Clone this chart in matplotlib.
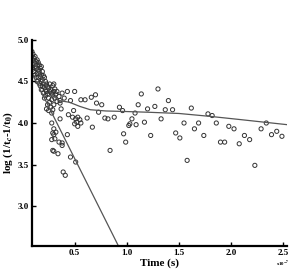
import numpy as np
import matplotlib
matplotlib.use("Agg")
import matplotlib.pyplot as plt

# scatter data (time in units of x10^-7 s)
t_pts = [0.09, 0.09, 0.10, 0.10, 0.10, 0.10, 0.11, 0.11, 0.11, 0.12, 0.12, 0.12,
         0.13, 0.13, 0.13, 0.14, 0.14, 0.14, 0.14, 0.15, 0.15, 0.15, 0.16, 0.16,
         0.16, 0.17, 0.17, 0.17, 0.18, 0.18, 0.18, 0.18, 0.19, 0.19, 0.19, 0.20,
         0.20, 0.20, 0.21, 0.21, 0.21, 0.22, 0.22, 0.22, 0.23, 0.23, 0.23, 0.24,
         0.24, 0.24, 0.25, 0.25, 0.25, 0.26, 0.26, 0.26, 0.27, 0.27, 0.28, 0.28,
         0.28, 0.29, 0.29, 0.30, 0.30, 0.31, 0.31, 0.32, 0.33, 0.33, 0.35, 0.36,
         0.38, 0.40,
         0.30, 0.43, 0.50, 0.60, 0.66, 0.70, 0.46, 0.36, 0.37, 0.29, 0.49, 0.56,
         0.44, 0.48, 0.51, 0.53, 0.55, 0.52, 0.50, 0.56, 0.53, 0.36, 0.67, 0.62,
         0.73, 0.79, 0.82, 0.88, 0.76, 0.71, 0.28, 0.30, 0.29, 0.31, 0.38, 0.43,
         0.97, 1.02, 0.99, 1.09, 0.84,
         0.28, 0.30, 0.32, 0.29, 0.30, 0.34, 0.35, 0.38, 0.46, 0.51, 0.39, 0.41,
         0.93, 0.96, 1.03, 1.05, 1.08, 1.11, 1.14, 1.17, 1.20, 1.23, 1.27, 1.30,
         1.33, 1.37, 1.40, 1.44, 1.47, 1.51, 1.55, 1.58, 1.62, 1.65, 1.69, 1.74,
         1.78, 1.82, 1.86, 1.90, 1.94, 1.98, 2.03, 2.08, 2.13, 2.18, 2.23, 2.29,
         2.34, 2.39, 2.44, 2.49]
logv = [4.86, 4.80, 4.83, 4.75, 4.70, 4.65, 4.78, 4.72, 4.62, 4.80, 4.68, 4.58,
        4.74, 4.66, 4.55, 4.76, 4.70, 4.60, 4.50, 4.73, 4.64, 4.55, 4.70, 4.62,
        4.48, 4.66, 4.56, 4.45, 4.68, 4.58, 4.50, 4.40, 4.62, 4.52, 4.44, 4.57,
        4.47, 4.36, 4.55, 4.43, 4.30, 4.50, 4.40, 4.33, 4.47, 4.38, 4.17, 4.44,
        4.35, 4.22, 4.42, 4.30, 4.15, 4.47, 4.38, 4.25, 4.40, 4.19, 4.36, 4.28,
        4.12, 4.45, 4.34, 4.38, 4.22, 4.41, 4.30, 4.35, 4.26, 4.38, 4.32, 4.24,
        4.36, 4.30,
        4.47, 4.38, 4.38, 4.28, 4.31, 4.34, 4.27, 4.27, 4.17, 4.16, 4.15, 4.28,
        4.10, 4.07, 4.05, 4.07, 4.04, 4.01, 3.99, 4.00, 3.96, 4.05, 3.95, 4.06,
        4.13, 4.06, 4.05, 4.07, 4.22, 4.24, 4.00, 3.93, 3.88, 3.81, 3.76, 3.86,
        3.87, 3.97, 3.77, 3.98, 3.67,
        3.80, 3.86, 3.89, 3.67, 3.66, 3.63, 3.77, 3.73, 3.59, 3.53, 3.41, 3.37,
        4.19, 4.15, 3.99, 4.05, 4.12, 4.22, 4.35, 4.01, 4.17, 3.85, 4.20, 4.41,
        4.05, 4.16, 4.27, 4.16, 3.88, 3.82, 4.00, 3.55, 4.18, 3.93, 4.00, 3.85,
        4.11, 4.09, 4.00, 3.77, 3.77, 3.96, 3.93, 3.75, 3.85, 3.80, 3.49, 3.93,
        4.00, 3.86, 3.90, 3.84]

# fitted lines, vertices
fast_t = [0.09, 0.92]
fast_y = [4.60, 2.52]
slow_t = [0.09, 0.15, 0.20, 0.25, 0.30, 0.35, 0.45, 0.55, 0.65, 0.80, 0.95,
          1.20, 1.50, 1.80, 2.10, 2.54]
slow_y = [4.80, 4.62, 4.50, 4.40, 4.32, 4.27, 4.25, 4.20, 4.16, 4.145, 4.14,
          4.13, 4.115, 4.08, 4.04, 3.98]

xticks = [0.5, 1.0, 1.5, 2.0, 2.5]
yticks = [3.0, 3.5, 4.0, 4.5, 5.0]

plt.rcParams['font.family'] = 'Liberation Serif'
plt.rcParams['font.weight'] = 'bold'
plt.rcParams['mathtext.fontset'] = 'stix'

fig = plt.figure(figsize=(2.93, 2.72), dpi=100)
ax = fig.add_axes([0.109, 0.096, 0.871, 0.757])

ax.plot(fast_t, fast_y, color='#555555', lw=0.9)
ax.plot(slow_t, slow_y, color='#555555', lw=0.9)
ax.scatter(t_pts, logv, s=9, facecolors='none', edgecolors='#333333', linewidths=0.7)

ax.set_xlim(0.09, 2.54)
ax.set_ylim(2.52, 5.0)
ax.set_xticks(xticks)
ax.set_yticks(yticks)
ax.set_xticklabels(['%.1f' % v for v in xticks], fontsize=6.5, fontweight='bold')
ax.set_yticklabels(['%.1f' % v for v in yticks], fontsize=6.5, fontweight='bold')
ax.tick_params(direction='in', length=3, width=1, pad=2)

for s in ['top', 'right']:
    ax.spines[s].set_visible(False)
for s in ['left', 'bottom']:
    ax.spines[s].set_linewidth(1.6)

ax.set_xlabel('Time (s)', fontsize=8, fontweight='bold', labelpad=1)
ax.set_ylabel(r'log (1/t$_c$-1/t$_0$)', fontsize=8, fontweight='bold', labelpad=2)
fig.text(0.965, 0.022, r'x10$^{-7}$', fontsize=3.5, ha='center')

fig.savefig('out.png', dpi=100)
